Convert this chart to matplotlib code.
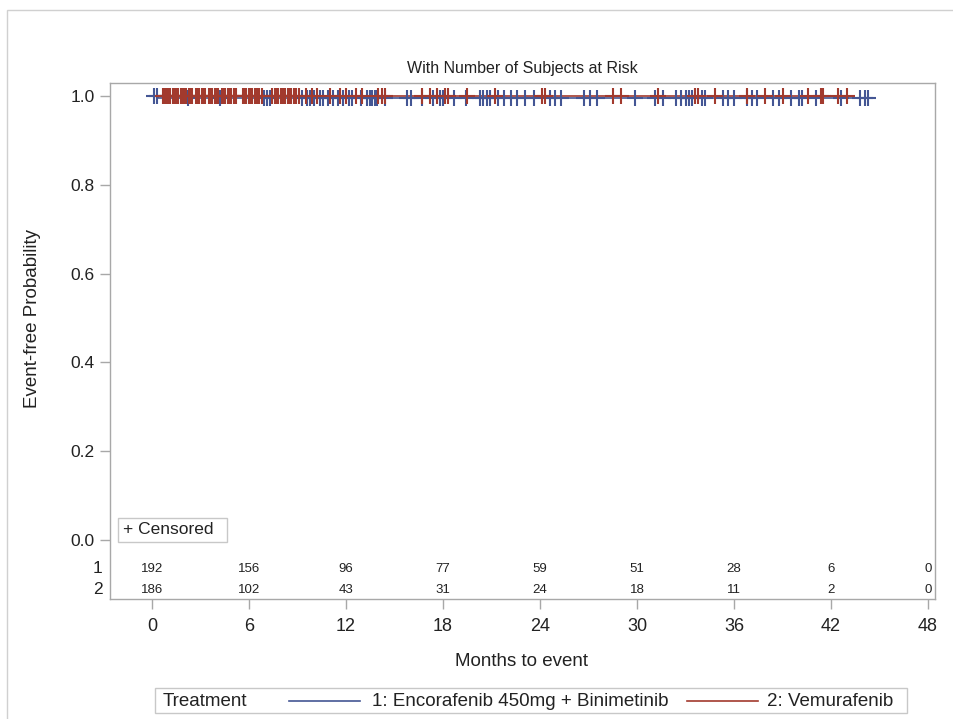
import matplotlib
matplotlib.use("Agg")
import matplotlib.pyplot as plt
from matplotlib.patches import Rectangle
from matplotlib.lines import Line2D
import matplotlib.transforms as mtrans

plt.rcParams['font.family'] = ['Liberation Sans', 'DejaVu Sans']

# ---------------- data ----------------
groups = ["1: Encorafenib 450mg + Binimetinib", "2: Vemurafenib"]
colors = ["#445694", "#A23A2E"]

# step curves (time, survival)
blue_times = [0.0, 0.35, 44.5]
blue_surv = [1.0, 0.995, 0.995]
red_times = [0.0, 43.0]
red_surv = [1.0, 1.0]

blue_censor = [0.1, 0.3, 2.2, 4.2, 6.9, 7.1, 7.3, 9.3, 9.6, 9.8, 10.0, 10.4, 10.6,
               10.9, 11.2, 11.5, 11.8, 12.2, 12.4, 12.9, 13.3, 13.5, 13.6, 13.8, 13.9,
               14.4, 15.8, 16.0, 16.7, 17.4, 17.8, 18.0, 18.7, 19.4, 20.3, 20.5, 20.7,
               20.9, 21.4, 21.8, 22.2, 22.6, 23.1, 23.6, 24.6, 24.9, 25.3, 26.7, 27.1,
               27.5, 29.9, 31.1, 31.6, 32.4, 32.7, 33.0, 33.2, 33.4, 34.0, 34.2, 35.3,
               35.6, 36.0, 36.8, 37.1, 37.4, 38.4, 38.8, 39.5, 40.0, 40.2, 41.1, 42.6,
               43.8, 44.1, 44.3]
red_censor = [0.7, 0.8, 0.9, 1.0, 1.1, 1.3, 1.4, 1.5, 1.6, 1.8, 1.9, 2.0, 2.1, 2.3,
              2.4, 2.5, 2.7, 2.8, 2.9, 3.1, 3.2, 3.3, 3.5, 3.6, 3.7, 3.9, 4.0, 4.1,
              4.3, 4.4, 4.5, 4.7, 4.8, 4.9, 5.1, 5.2, 5.6, 5.7, 5.8, 6.0, 6.1, 6.2,
              6.4, 6.5, 6.6, 6.8, 7.4, 7.6, 7.7, 7.8, 8.0, 8.1, 8.2, 8.4, 8.5, 8.6,
              8.8, 8.9, 9.1, 9.5, 9.9, 10.2, 11.0, 11.6, 12.0, 12.6, 13.0, 14.0,
              14.2, 14.4, 16.7, 17.2, 17.6, 18.1, 18.3, 19.5, 21.2, 24.1, 24.3,
              28.5, 29.0, 31.3, 33.6, 33.8, 34.8, 36.8, 37.9, 39.0, 40.6, 41.4,
              41.5, 42.4, 43.0]

risk_times = [0, 6, 12, 18, 24, 30, 36, 42, 48]
risk_1 = [192, 156, 96, 77, 59, 51, 28, 6, 0]
risk_2 = [186, 102, 43, 31, 24, 18, 11, 2, 0]

x_ticks = [0, 6, 12, 18, 24, 30, 36, 42, 48]
y_ticks = [0.0, 0.2, 0.4, 0.6, 0.8, 1.0]

# ---------------- figure ----------------
W, H = 954, 719
fig = plt.figure(figsize=(W / 100, H / 100), dpi=100)

def fx(px):
    return px / W

def fy(py):
    return 1 - py / H

# outer border
fig.add_artist(Rectangle((fx(7), -0.1), 1.2, fy(10) + 0.1, transform=fig.transFigure,
                         fill=False, edgecolor="#d0d0d0", linewidth=1.0))

ax = fig.add_axes([fx(110), fy(599), fx(935) - fx(110), fy(83) - fy(599)])
ax.set_xlim(-2.598, 48.43)
ax.set_ylim(-0.1329, 1.0293)

grey = "#a8a8a8"
for s in ax.spines.values():
    s.set_color(grey)
    s.set_linewidth(1.0)

ax.set_xticks(x_ticks)
ax.set_xticklabels([str(t) for t in x_ticks], fontsize=13)
ax.set_yticks(y_ticks)
ax.set_yticklabels([f"{t:.1f}" for t in y_ticks], fontsize=12.5)
ax.tick_params(axis="both", color=grey, length=7, width=1, labelcolor="#222222")
ax.tick_params(axis="x", pad=7)
ax.tick_params(axis="y", pad=4)

# curves
ax.step(blue_times, blue_surv, where="post", color=colors[0], lw=1.2)
ax.step(red_times, red_surv, where="post", color=colors[1], lw=1.2)


def surv_at(t, times, surv):
    v = surv[0]
    for tt, s in zip(times, surv):
        if t >= tt:
            v = s
    return v

ax.plot(blue_censor, [surv_at(t, blue_times, blue_surv) for t in blue_censor],
        linestyle="none", marker="+", markersize=11, markeredgewidth=1.5,
        color=colors[0])
ax.plot(red_censor, [surv_at(t, red_times, red_surv) for t in red_censor],
        linestyle="none", marker="+", markersize=11, markeredgewidth=1.5,
        color=colors[1])

# at-risk table
row_y = [-0.0653, -0.1126]
for t, n1, n2 in zip(risk_times, risk_1, risk_2):
    ax.text(t, row_y[0], str(n1), ha="center", va="center", fontsize=9.5, color="#222222")
    ax.text(t, row_y[1], str(n2), ha="center", va="center", fontsize=9.5, color="#222222")
blend = mtrans.blended_transform_factory(ax.transAxes, ax.transData)
ax.text(-0.009, row_y[0], "1", transform=blend, ha="right", va="center", fontsize=12.5, color="#222222")
ax.text(-0.009, row_y[1], "2", transform=blend, ha="right", va="center", fontsize=12.5, color="#222222")

# censored box
fig.add_artist(Rectangle((fx(118), fy(542)), fx(227) - fx(118), fy(518) - fy(542),
                         transform=fig.transFigure, fill=False, edgecolor="#c8c8c8", lw=1))
fig.text(fx(123), fy(530), "+ Censored", ha="left", va="center", fontsize=12.5, color="#222222")

# title and labels
fig.text(fx(522), fy(68), "With Number of Subjects at Risk", ha="center", va="center",
         fontsize=11.5, color="#222222")
fig.text(fx(522), fy(661), "Months to event", ha="center", va="center",
         fontsize=13.5, color="#222222")
fig.text(fx(33), fy(318), "Event-free Probability", rotation=90, ha="center", va="center",
         fontsize=13.5, color="#222222")

# legend box (manual)
fig.add_artist(Rectangle((fx(155), fy(713)), fx(907) - fx(155), fy(688) - fy(713),
                         transform=fig.transFigure, fill=False, edgecolor="#c8c8c8", lw=1))
ly = fy(701)
fig.text(fx(163), ly, "Treatment", ha="left", va="center", fontsize=13.5, color="#222222")
fig.add_artist(Line2D([fx(289), fx(360)], [ly, ly], transform=fig.transFigure,
                      color=colors[0], lw=1.2))
fig.text(fx(372), ly, groups[0], ha="left", va="center", fontsize=13.5, color="#222222")
fig.add_artist(Line2D([fx(687), fx(758)], [ly, ly], transform=fig.transFigure,
                      color=colors[1], lw=1.2))
fig.text(fx(767), ly, groups[1], ha="left", va="center", fontsize=13.5, color="#222222")

fig.savefig("out.png", dpi=100)
